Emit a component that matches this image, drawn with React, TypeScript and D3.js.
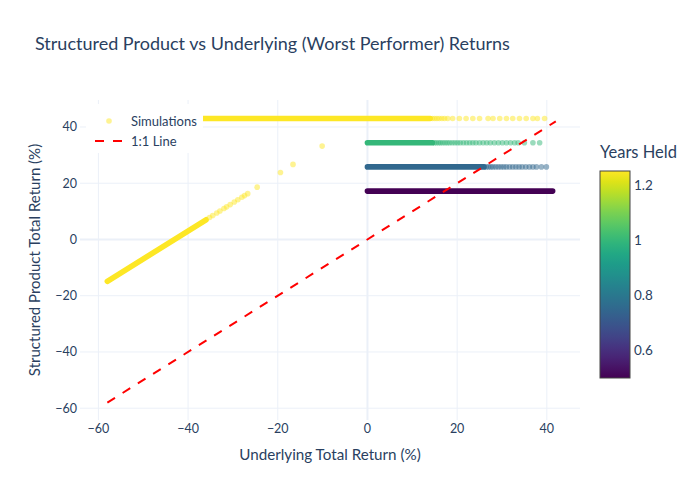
import React from "react";
import * as d3 from "d3";

// simulated outcomes, grouped by years held before the product ended
const yearsHeld = [0.5, 0.75, 1, 1.25];
const productReturn = [17.2, 25.8, 34.4, 43.0];
// underlying return range where simulations pile up into a solid band
const denseFrom = [0, 0, 0, -40];
const denseTo = [41.3, 26.0, 14.5, 14.0];
// sparser simulations past the solid band (underlying return)
const tailHalfYear: number[] = [];
const tailThreeQuarter = [26.5, 27.0, 27.5, 28.0, 28.6, 29.2, 29.8, 30.4, 31.0, 31.7, 32.4, 33.1, 33.8, 34.5, 35.3, 36.1, 36.9, 37.7, 38.8, 39.9];
const tailOneYear = [15.0, 15.4, 15.9, 16.3, 16.8, 17.3, 17.8, 18.3, 18.9, 19.5, 20.1, 20.7, 21.4, 22.1, 22.8, 23.5, 24.2, 25.0, 25.8, 26.6, 27.4, 28.3, 29.2, 30.1, 31.0, 31.9, 32.8, 33.6, 35.0, 36.9, 38.4];
const tailMaturity = [14.5, 15.0, 15.5, 16.0, 16.6, 17.2, 17.9, 19.0, 20.5, 22.0, 23.5, 25.0, 26.9, 28.0, 29.5, 31.0, 32.4, 33.9, 35.4, 36.9, 37.9, 39.5];

// maturity below barrier: solid run, then scattered points
const lossRunX = [-58, -36];
const lossRunY = [-14.9, 7.0];
const lossX = [-35.2, -34.5, -33.6, -32.9, -32.0, -31.4, -30.6, -29.7, -28.9, -28.0, -27.4, -26.7, -24.6, -19.4, -16.6, -10.1];
const lossY = [7.8, 8.5, 9.4, 10.1, 11.0, 11.6, 12.4, 13.3, 14.1, 15.0, 15.6, 16.3, 18.6, 23.8, 26.7, 33.2];
const lossYears = 1.25;

const oneToOne = [-58, 42];

const xTicks = [-60, -40, -20, 0, 20, 40];
const yTicks = [-60, -40, -20, 0, 20, 40];
const colorTicks = [0.6, 0.8, 1, 1.2];

const W = 700;
const H = 500;
const plot = { left: 80, right: 580, top: 100, bottom: 420 };
const bar = { left: 600, right: 630, top: 171, bottom: 378 };
const FONT = "'Source Sans Pro', Lato, 'Noto Sans', sans-serif";
const INK = "#2a3f5f";
const GRID = "#EBF0F8";

export default function App() {
  const x = d3.scaleLinear().domain([-64.1, 47.4]).range([plot.left, plot.right]);
  const y = d3.scaleLinear().domain([-64.2, 49.6]).range([plot.bottom, plot.top]);
  const cScale = d3.scaleSequential(d3.interpolateViridis).domain([0.5, 1.25]);
  const cy = d3.scaleLinear().domain([0.5, 1.25]).range([bar.bottom, bar.top]);
  const fmt = d3.format("");
  const fmtC = (v: number) => d3.format("~g")(v);

  const tails = [tailHalfYear, tailThreeQuarter, tailOneYear, tailMaturity];
  const r = 2.8;

  const gradStops = d3.range(0, 1.0001, 0.05);

  return (
    <svg
      width={W}
      height={H}
      style={{ position: "absolute", left: 0, top: 0, background: "#fff" }}
      fontFamily={FONT}
    >
      <defs>
        <linearGradient id="viridis" x1="0" y1="1" x2="0" y2="0">
          {gradStops.map((t) => (
            <stop key={t} offset={t} stopColor={d3.interpolateViridis(t)} />
          ))}
        </linearGradient>
        <clipPath id="plotClip">
          <rect x={plot.left} y={plot.top} width={plot.right - plot.left} height={plot.bottom - plot.top} />
        </clipPath>
      </defs>

      <text x={35} y={50} fontSize={18} fill={INK}>
        Structured Product vs Underlying (Worst Performer) Returns
      </text>

      {/* grid */}
      {xTicks.map((t) => (
        <line key={"gx" + t} x1={x(t)} x2={x(t)} y1={plot.top} y2={plot.bottom} stroke={GRID} strokeWidth={t === 0 ? 2 : 1} />
      ))}
      {yTicks.map((t) => (
        <line key={"gy" + t} x1={plot.left} x2={plot.right} y1={y(t)} y2={y(t)} stroke={GRID} strokeWidth={t === 0 ? 2 : 1} />
      ))}

      <g clipPath="url(#plotClip)">
        {/* solid bands */}
        {yearsHeld.map((yr, i) => (
          <line
            key={"band" + yr}
            x1={x(denseFrom[i])}
            x2={x(denseTo[i])}
            y1={y(productReturn[i])}
            y2={y(productReturn[i])}
            stroke={cScale(yr)}
            strokeWidth={r * 2}
            strokeLinecap="round"
          />
        ))}
        <line
          x1={x(lossRunX[0])}
          x2={x(lossRunX[1])}
          y1={y(lossRunY[0])}
          y2={y(lossRunY[1])}
          stroke={cScale(lossYears)}
          strokeWidth={r * 2}
          strokeLinecap="round"
        />
        {/* scattered simulations */}
        {yearsHeld.map((yr, i) =>
          tails[i].map((v, j) => (
            <circle key={"t" + i + "-" + j} cx={x(v)} cy={y(productReturn[i])} r={r} fill={cScale(yr)} opacity={0.5} />
          ))
        )}
        {lossX.map((v, j) => (
          <circle key={"l" + j} cx={x(v)} cy={y(lossY[j])} r={r} fill={cScale(lossYears)} opacity={0.5} />
        ))}
        {/* 1:1 line */}
        <line
          x1={x(oneToOne[0])}
          y1={y(oneToOne[0])}
          x2={x(oneToOne[1])}
          y2={y(oneToOne[1])}
          stroke="red"
          strokeWidth={2}
          strokeDasharray="9,9"
        />
      </g>

      {/* axes labels */}
      {xTicks.map((t) => (
        <text key={"xt" + t} x={x(t)} y={433} textAnchor="middle" fontSize={12.5} fill={INK}>
          {fmt(t)}
        </text>
      ))}
      {yTicks.map((t) => (
        <text key={"yt" + t} x={77} y={y(t)} dy="0.35em" textAnchor="end" fontSize={12.5} fill={INK}>
          {fmt(t)}
        </text>
      ))}
      <text x={(plot.left + plot.right) / 2} y={460} textAnchor="middle" fontSize={15.2} fill={INK}>
        Underlying Total Return (%)
      </text>
      <text
        transform={`translate(40,${(plot.top + plot.bottom) / 2}) rotate(-90)`}
        textAnchor="middle"
        fontSize={15}
        fill={INK}
      >
        Structured Product Total Return (%)
      </text>

      {/* legend */}
      <rect x={86} y={104} width={117} height={49} fill="#fff" />
      <circle cx={109} cy={121} r={r} fill={cScale(1.25)} opacity={0.5} />
      <text x={131} y={121} dy="0.35em" fontSize={13} fill={INK}>
        Simulations
      </text>
      <line x1={95} x2={125} y1={141} y2={141} stroke="red" strokeWidth={2} strokeDasharray="9,9" />
      <text x={131} y={141} dy="0.35em" fontSize={13} fill={INK}>
        1:1 Line
      </text>

      {/* colorbar */}
      <text x={600} y={158} fontSize={16.5} fill={INK}>
        Years Held
      </text>
      <rect
        x={bar.left}
        y={bar.top}
        width={bar.right - bar.left}
        height={bar.bottom - bar.top}
        fill="url(#viridis)"
        stroke="#444"
        strokeWidth={1}
      />
      {colorTicks.map((t) => (
        <text key={"ct" + t} x={634} y={cy(t)} dy="0.35em" fontSize={13.5} fill={INK}>
          {fmtC(t)}
        </text>
      ))}
    </svg>
  );
}
